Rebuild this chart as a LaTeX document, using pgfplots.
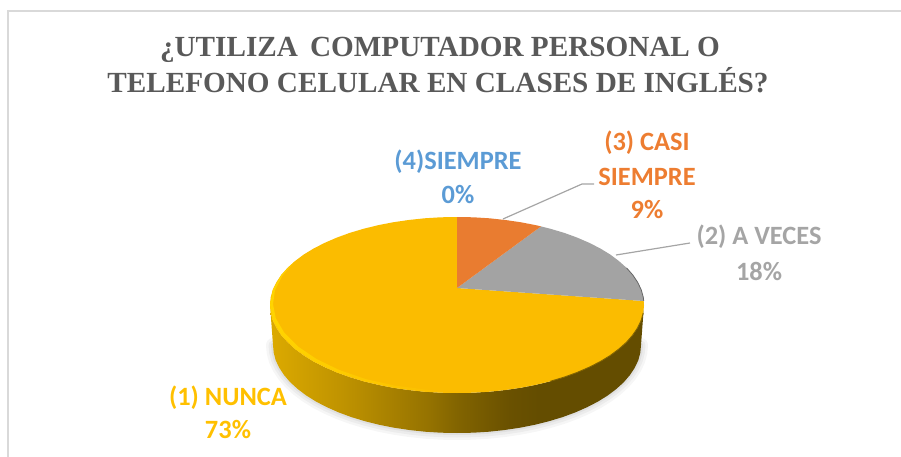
\documentclass[border=0pt]{standalone}
\usepackage{fontspec}
\setmainfont{Liberation Serif}
\newfontfamily\lab{Carlito}
\usepackage{pgfplots}
\usepackage{pgfplotstable}
\pgfplotsset{compat=1.18}
\definecolor{titlec}{HTML}{595959}
\definecolor{cy}{HTML}{FBBC00}
\definecolor{co}{HTML}{E97C30}
\definecolor{cg}{HTML}{A3A3A3}
\definecolor{ly}{HTML}{FFC000}
\definecolor{lo}{HTML}{ED7D31}
\definecolor{lg}{HTML}{A5A5A5}
\definecolor{lb}{HTML}{5B9BD5}
\definecolor{s0}{HTML}{DCAA00}
\definecolor{s1}{HTML}{BE9200}
\definecolor{s2}{HTML}{967300}
\definecolor{s3}{HTML}{826400}
\definecolor{s4}{HTML}{6A5100}
\definecolor{s5}{HTML}{644D00}
\definecolor{rim}{HTML}{FFD400}
\pgfdeclarehorizontalshading{sidegold}{100bp}{
  color(0bp)=(s0); color(25bp)=(s0); color(35bp)=(s1); color(46bp)=(s2);
  color(50bp)=(s3); color(57bp)=(s4); color(61bp)=(s5); color(100bp)=(s5)}
\pgfplotstableread{
x y
641 345
640.3 352.7
638.3 360.3
634.7 367.8
629.9 375.1
623.8 382.2
616.3 389
607.7 395.5
597.9 401.6
587.1 407.2
575.3 412.4
562.6 417.1
549 421.2
534.7 424.8
520 427.7
504.6 430
489 431.7
473 432.7
457 433
441 432.7
425 431.7
409.4 430
394 427.7
379.3 424.8
365 421.2
351.4 417.1
338.7 412.4
326.9 407.2
316.1 401.6
306.3 395.5
297.7 389
290.2 382.2
284.1 375.1
279.3 367.8
275.7 360.3
273.7 352.7
273 345
}\bottomarc
\pgfplotstableread{
x y
644 305
643.3 312.7
641.2 320.3
637.6 327.8
632.7 335.1
626.5 342.2
618.9 349
610.2 355.5
600.2 361.6
589.2 367.2
577.2 372.4
564.3 377.1
550.5 381.2
536 384.8
521 387.7
505.4 390
489.5 391.7
473.3 392.7
457 393
440.7 392.7
424.5 391.7
408.6 390
393 387.7
378 384.8
363.5 381.2
349.7 377.1
336.8 372.4
324.8 367.2
313.8 361.6
303.8 355.5
295.1 349
287.5 342.2
281.3 335.1
276.4 327.8
272.8 320.3
270.7 312.7
270 305
273 345
273.7 352.7
275.7 360.3
279.3 367.8
284.1 375.1
290.2 382.2
297.7 389
306.3 395.5
316.1 401.6
326.9 407.2
338.7 412.4
351.4 417.1
365 421.2
379.3 424.8
394 427.7
409.4 430
425 431.7
441 432.7
457 433
473 432.7
489 431.7
504.6 430
520 427.7
534.7 424.8
549 421.2
562.6 417.1
575.3 412.4
587.1 407.2
597.9 401.6
607.7 395.5
616.3 389
623.8 382.2
629.9 375.1
634.7 367.8
638.3 360.3
640.3 352.7
641 345
}\sidewall
\pgfplotstableread{
x y
457 288
643.7 301
644 305
643.3 312.7
641.2 320.3
637.6 327.8
632.7 335.1
626.5 342.2
618.9 349
610.2 355.5
600.2 361.6
589.2 367.2
577.2 372.4
564.3 377.1
550.5 381.2
536 384.8
521 387.7
505.4 390
489.5 391.7
473.3 392.7
457 393
440.7 392.7
424.5 391.7
408.6 390
393 387.7
378 384.8
363.5 381.2
349.7 377.1
336.8 372.4
324.8 367.2
313.8 361.6
303.8 355.5
295.1 349
287.5 342.2
281.3 335.1
276.4 327.8
272.8 320.3
270.7 312.7
270 305
270.7 297.3
272.8 289.7
276.4 282.2
281.3 274.9
287.5 267.8
295.1 261
303.8 254.5
313.8 248.4
324.8 242.8
336.8 237.6
349.7 232.9
363.5 228.8
378 225.2
393 222.3
408.6 220
424.5 218.3
440.7 217.3
457 217
}\yellowslice
\pgfplotstableread{
x y
457 288
541 226.4
550.5 228.8
564.3 232.9
577.2 237.6
589.2 242.8
600.2 248.4
610.2 254.5
618.9 261
626.5 267.8
632.7 274.9
637.6 282.2
641.2 289.7
643.3 297.3
643.7 301
}\grayslice
\pgfplotstableread{
x y
457 288
457 217
473.3 217.3
489.5 218.3
505.4 220
521 222.3
536 225.2
541 226.4
}\orangeslice
\pgfplotstableread{
x y
295.1 261
281.3 274.9
272.8 289.7
270 305
272.8 320.3
281.3 335.1
295.1 349
313.8 361.6
336.8 372.4
363.5 381.2
393 387.7
424.5 391.7
457 393
425.5 389.5
394.5 385.5
365.5 379
339.3 370
316.5 359
298 346.5
284.3 332.7
275.8 318.3
273 304
275 290
282.5 275.5
}\rimshape
\begin{document}
\begin{tikzpicture}
\useasboundingbox (0,0) rectangle (901pt,457pt);
\begin{axis}[
  at={(0,0)}, anchor=south west,
  scale only axis, width=901pt, height=457pt,
  xmin=0, xmax=901, ymin=0, ymax=457, y dir=reverse,
  hide axis, clip=false]
% frame
\addplot[draw=black!15, line width=1.5pt] coordinates {(8,457) (8,11) (901,11)};
% soft shadow
\addplot[black, opacity=.035, line width=14pt, line cap=round, line join=round] table {\bottomarc};
\addplot[black, opacity=.04, line width=9pt, line cap=round, line join=round] table {\bottomarc};
\addplot[black, opacity=.05, line width=4pt, line cap=round, line join=round] table {\bottomarc};
% side wall
\addplot[draw=none, shading=sidegold] table {\sidewall} -- cycle;
% top face
\addplot[draw=none, fill=cy] table {\yellowslice} -- cycle;
\addplot[draw=none, fill=cg] table {\grayslice} -- cycle;
\addplot[draw=none, fill=co] table {\orangeslice} -- cycle;
% rim and edge light
\addplot[draw=none, left color=rim, right color=cy] table {\rimshape} -- cycle;
\addplot[draw=s3, line width=.9pt] coordinates {(643.3,312.7) (641.2,320.3) (637.6,327.8) (632.7,335.1) (626.5,342.2) (618.9,349) (610.2,355.5) (600.2,361.6) (589.2,367.2) (577.2,372.4) (564.3,377.1) (550.5,381.2)};
\addplot[draw=black!60, line width=.8pt] coordinates {(626.5,267.8) (632.7,274.9) (637.6,282.2) (641.2,289.7) (643.3,297.3) (643.7,301)};
% leader lines
\addplot[draw=lg, line width=1.2pt] coordinates {(503,219) (582,184) (594,184)};
\addplot[draw=lg, line width=1.2pt] coordinates {(616,255) (690,243)};
% title
\node[text=titlec, font=\fontsize{29.2}{29.2}\selectfont\bfseries] at (axis cs:440,50) {¿UTILIZA\, COMPUTADOR PERSONAL O};
\node[text=titlec, font=\fontsize{29.2}{29.2}\selectfont\bfseries] at (axis cs:438,80.5) {TELEFONO CELULAR EN CLASES DE INGLÉS?};
% labels
\node[text=lb, font=\lab\fontsize{26.4}{26.4}\selectfont\bfseries] at (axis cs:458,162) {(4)SIEMPRE};
\node[text=lb, font=\lab\fontsize{26.4}{26.4}\selectfont\bfseries] at (axis cs:458,195) {0\%};
\node[text=lo, font=\lab\fontsize{26.4}{26.4}\selectfont\bfseries] at (axis cs:647,143) {(3) CASI};
\node[text=lo, font=\lab\fontsize{26.4}{26.4}\selectfont\bfseries] at (axis cs:647,177) {SIEMPRE};
\node[text=lo, font=\lab\fontsize{26.4}{26.4}\selectfont\bfseries] at (axis cs:647,210) {9\%};
\node[text=lg, font=\lab\fontsize{26.4}{26.4}\selectfont\bfseries] at (axis cs:759,237) {(2) A VECES};
\node[text=lg, font=\lab\fontsize{26.4}{26.4}\selectfont\bfseries] at (axis cs:759,271) {18\%};
\node[text=ly, font=\lab\fontsize{26.4}{26.4}\selectfont\bfseries] at (axis cs:228,398) {(1) NUNCA};
\node[text=ly, font=\lab\fontsize{26.4}{26.4}\selectfont\bfseries] at (axis cs:228,430) {73\%};
\end{axis}
\end{tikzpicture}
\end{document}
